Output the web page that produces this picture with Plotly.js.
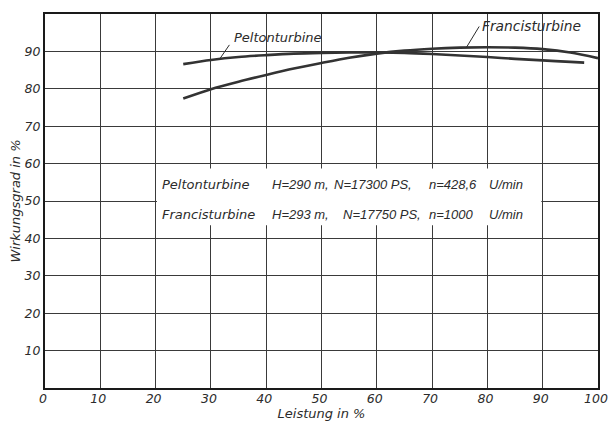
<!DOCTYPE html>
<html>
<head>
<meta charset="utf-8">
<script src="https://cdn.plot.ly/plotly-3.0.1.min.js"></script>
<style>
html,body{margin:0;padding:0;background:#fff;}
#chart{width:608px;height:421px;}
</style>
</head>
<body>
<div id="chart"></div>
<script>
// ---- data ----
const peltonX = [25, 30, 35, 40, 45, 50, 55, 60, 65, 70, 75, 80, 85, 90, 95, 97.5];
const peltonY = [86.6, 87.7, 88.5, 89.0, 89.4, 89.6, 89.7, 89.7, 89.6, 89.3, 88.9, 88.5, 88.0, 87.6, 87.2, 87.0];
const francisX = [25, 30, 35, 40, 45, 50, 55, 60, 65, 70, 75, 80, 85, 90, 95, 100];
const francisY = [77.4, 79.9, 81.9, 83.7, 85.4, 86.9, 88.3, 89.4, 90.2, 90.7, 91.0, 91.1, 91.0, 90.6, 89.7, 88.2];

const xTicks = [0, 10, 20, 30, 40, 50, 60, 70, 80, 90, 100];
const yTicks = [10, 20, 30, 40, 50, 60, 70, 80, 90];

const seriesNames = ['Peltonturbine', 'Francisturbine'];
const heads = ['H=290 m,', 'H=293 m,'];
const powers = ['N=17300 PS,', 'N=17750 PS,'];
const speeds = ['n=428,6', 'n=1000'];
const speedUnit = 'U/min';

const xTitle = 'Leistung in %';
const yTitle = 'Wirkungsgrad in %';

// ---- styling ----
const ink = '#2b2b2b';
const fontFam = 'DejaVu Sans, Liberation Sans, sans-serif';
const narrowFam = 'Liberation Sans, Arial, sans-serif';
const baseFont = {family: fontFam, size: 12, color: ink, style: 'italic'};
function f(size, fam) { return Object.assign({}, baseFont, {size: size}, fam ? {family: fam} : {}); }

const traces = [
  {x: peltonX, y: peltonY, name: seriesNames[0], mode: 'lines',
   line: {color: '#333', width: 2.6, shape: 'spline', smoothing: 0.8}, hoverinfo: 'skip'},
  {x: francisX, y: francisY, name: seriesNames[1], mode: 'lines',
   line: {color: '#333', width: 2.6, shape: 'spline', smoothing: 0.8}, hoverinfo: 'skip'}
];

const annotations = [];
// curve labels with leader lines
function curveLabel(name, px, py, tx, ty, labelX, labelY, size) {
  annotations.push({x: px, y: py, xref: 'x', yref: 'y', text: ' ',
    font: {size: 1}, showarrow: true, arrowhead: 0, arrowwidth: 1, arrowcolor: ink,
    ax: tx, ay: ty, standoff: 0, startstandoff: 0});
  annotations.push({x: labelX, y: labelY, xref: 'x', yref: 'y', text: name,
    showarrow: false, xanchor: 'left', yanchor: 'middle', font: f(size)});
}
curveLabel(seriesNames[0], 31.6, 88.0, 11, -16, 33.8, 93.6, 13);
curveLabel(seriesNames[1], 76.2, 91.05, 14, -23, 78.7, 96.8, 13.8);

// specification block
const rowY = [54.5, 46.3];
const colX = [[20.8, 20.8], [40.6, 40.6], [51.9, 53.6], [69.0, 69.0], [80.0, 80.0]];
for (let r = 0; r < 2; r++) {
  const cols = [seriesNames[r], heads[r], powers[r], speeds[r], speedUnit];
  cols.forEach((t, c) => {
    annotations.push({x: colX[c][r], y: rowY[r], xref: 'x', yref: 'y', text: t,
      showarrow: false, xanchor: 'left', yanchor: 'middle',
      font: c === 0 ? f(13) : f(13, narrowFam)});
  });
}

const layout = {
  width: 608, height: 421,
  margin: {l: 45, r: 10, t: 14, b: 33},
  paper_bgcolor: '#ffffff', plot_bgcolor: '#ffffff',
  showlegend: false,
  xaxis: {
    range: [0, 100], tickvals: xTicks, ticktext: xTicks.map(String),
    showgrid: true, gridcolor: '#3a3a3a', gridwidth: 1,
    zeroline: false, showline: true, linecolor: '#1a1a1a', linewidth: 2, mirror: true,
    ticks: '', tickfont: f(12.5), ticklabeloverflow: 'allow',
    ticklabelshift: -2, ticklabelstandoff: -2,
    title: {text: xTitle, font: f(13), standoff: 4}
  },
  yaxis: {
    range: [0, 100], tickvals: yTicks, ticktext: yTicks.map(String),
    showgrid: true, gridcolor: '#3a3a3a', gridwidth: 1,
    zeroline: false, showline: true, linecolor: '#1a1a1a', linewidth: 2, mirror: true,
    ticks: '', tickfont: f(12.5),
    title: {text: yTitle, font: f(13), standoff: 1}
  },
  shapes: [
    {type: 'rect', xref: 'x', yref: 'y', x0: 20.25, x1: 89.75, y0: 43.5, y1: 58.7,
     fillcolor: '#ffffff', line: {width: 0}, layer: 'between'}
  ],
  annotations: annotations
};

Plotly.newPlot('chart', traces, layout, {staticPlot: true, displayModeBar: false});
</script>
</body>
</html>
